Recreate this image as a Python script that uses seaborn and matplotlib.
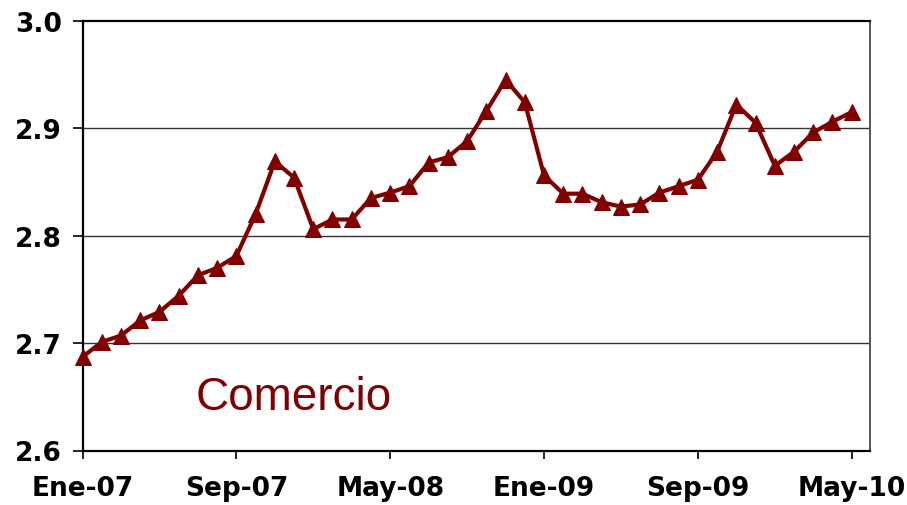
import matplotlib
matplotlib.use("Agg")
import matplotlib.pyplot as plt
import seaborn as sns
import pandas as pd

values = [2.687, 2.701, 2.707, 2.721, 2.729, 2.744, 2.763, 2.770, 2.781, 2.820,
          2.869, 2.854, 2.806, 2.815, 2.815, 2.835, 2.840, 2.846, 2.868, 2.873,
          2.888, 2.916, 2.945, 2.924, 2.856, 2.839, 2.839, 2.831, 2.827, 2.829,
          2.840, 2.846, 2.852, 2.878, 2.922, 2.905, 2.865, 2.878, 2.896, 2.906,
          2.915]
months = list(range(len(values)))
tick_pos = [0, 8, 16, 24, 32, 40]
tick_labels = ["Ene-07", "Sep-07", "May-08", "Ene-09", "Sep-09", "May-10"]
y_ticks = [2.6, 2.7, 2.8, 2.9, 3.0]
label = "Comercio"

sns.set_theme(style="white")
plt.rcParams['font.family'] = ['DejaVu Sans']

df = pd.DataFrame({"mes": months, "valor": values})
color = "#800000"

fig = plt.figure(figsize=(9.07, 5.06), dpi=100)
ax = fig.add_axes([82.5/907, 1 - 451.5/506, (870 - 82.5)/907, (451.5 - 21.7)/506])

for y in [2.7, 2.8, 2.9]:
    ax.axhline(y, color="#333333", lw=1.0, zorder=1)

sns.lineplot(data=df, x="mes", y="valor", ax=ax, color=color, lw=3.0,
             marker="^", markersize=11.5, markeredgecolor=color, zorder=3,
             clip_on=False)

ax.set_xlim(0, 40.95)
ax.set_ylim(2.6, 3.0)
ax.set_xticks(tick_pos)
ax.set_xticklabels(tick_labels)
ax.set_yticks(y_ticks)
ax.set_yticklabels([f"{v:.1f}" for v in y_ticks])
ax.set_xlabel("")
ax.set_ylabel("")

for lab in ax.get_xticklabels() + ax.get_yticklabels():
    lab.set_fontweight("bold")
    lab.set_fontsize(19)
    lab.set_color("black")

ax.tick_params(axis="x", direction="out", length=6, width=1.2, color="black",
               pad=12, bottom=True)
ax.tick_params(axis="y", direction="out", length=7, width=1.2, color="black",
               pad=8, left=True)

for side in ["left", "bottom", "top"]:
    ax.spines[side].set_color("black")
    ax.spines[side].set_linewidth(1.6)
ax.spines["right"].set_color("#555555")
ax.spines["right"].set_linewidth(1.4)

ax.text(5.9, 2.6385, label, color=color, fontsize=33,
        family=["Liberation Sans", "DejaVu Sans"], ha="left", va="baseline")

fig.savefig("out.png", dpi=100, facecolor="white")
